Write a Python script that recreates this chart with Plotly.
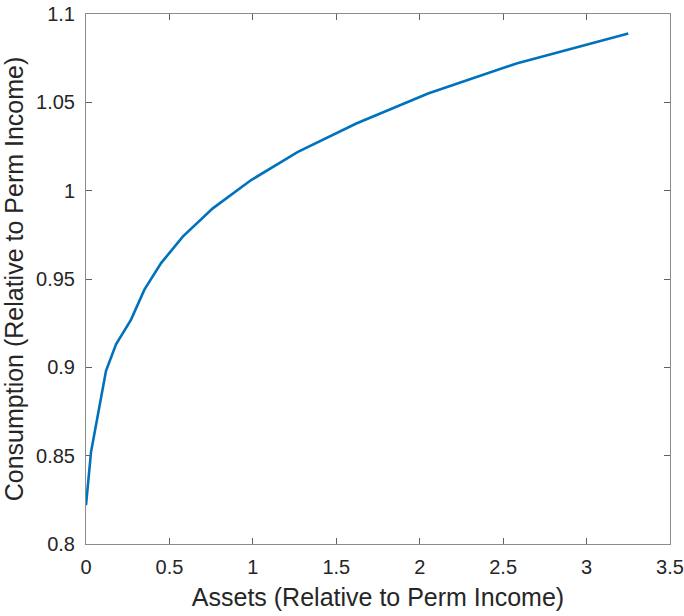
import plotly.graph_objects as go

assets = [0.0, 0.03, 0.12, 0.18, 0.27, 0.35, 0.45, 0.58, 0.76, 0.99, 1.27, 1.62, 2.05, 2.58, 3.25]
consumption = [0.822, 0.852, 0.898, 0.913, 0.927, 0.944, 0.959, 0.974, 0.990, 1.006, 1.022, 1.038, 1.055, 1.072, 1.089]

x_ticks = [0, 0.5, 1, 1.5, 2, 2.5, 3, 3.5]
x_tick_labels = ["0", "0.5", "1", "1.5", "2", "2.5", "3", "3.5"]
y_ticks = [0.8, 0.85, 0.9, 0.95, 1.0, 1.05, 1.1]
y_tick_labels = ["0.8", "0.85", "0.9", "0.95", "1", "1.05", "1.1"]

fig = go.Figure()
fig.add_trace(go.Scatter(x=assets, y=consumption, mode="lines",
                         line=dict(color="#0072BD", width=2.6)))

font_family = "Liberation Sans, Arial, sans-serif"
axis_common = dict(
    showline=True, linecolor="#8c8c8c", linewidth=1, mirror="ticks",
    ticks="inside", ticklen=6, tickcolor="#606060", tickwidth=1,
    showgrid=False, zeroline=False, automargin=False,
    ticklabeloverflow="allow",
    tickfont=dict(family=font_family, size=20, color="#262626"),
)

fig.update_layout(
    width=684, height=616,
    margin=dict(l=86, r=14, t=14, b=72),
    paper_bgcolor="white", plot_bgcolor="white",
    showlegend=False,
    xaxis=dict(range=[0, 3.5], tickvals=x_ticks, ticktext=x_tick_labels,
               ticklabelstandoff=5,
               title=dict(text="Assets (Relative to Perm Income)",
                          font=dict(family=font_family, size=25, color="#262626"),
                          standoff=11),
               **axis_common),
    yaxis=dict(range=[0.8, 1.1], tickvals=y_ticks, ticktext=y_tick_labels,
               ticklabelstandoff=6,
               title=dict(text="Consumption (Relative to Perm Income)",
                          font=dict(family=font_family, size=25, color="#262626"),
                          standoff=15),
               **axis_common),
)

# remove the default 8px page margin so the figure fills the 684x616 window
fig.write_html("out.html",
               config={"displayModeBar": False},
               post_script="document.body.style.margin='0px';")
